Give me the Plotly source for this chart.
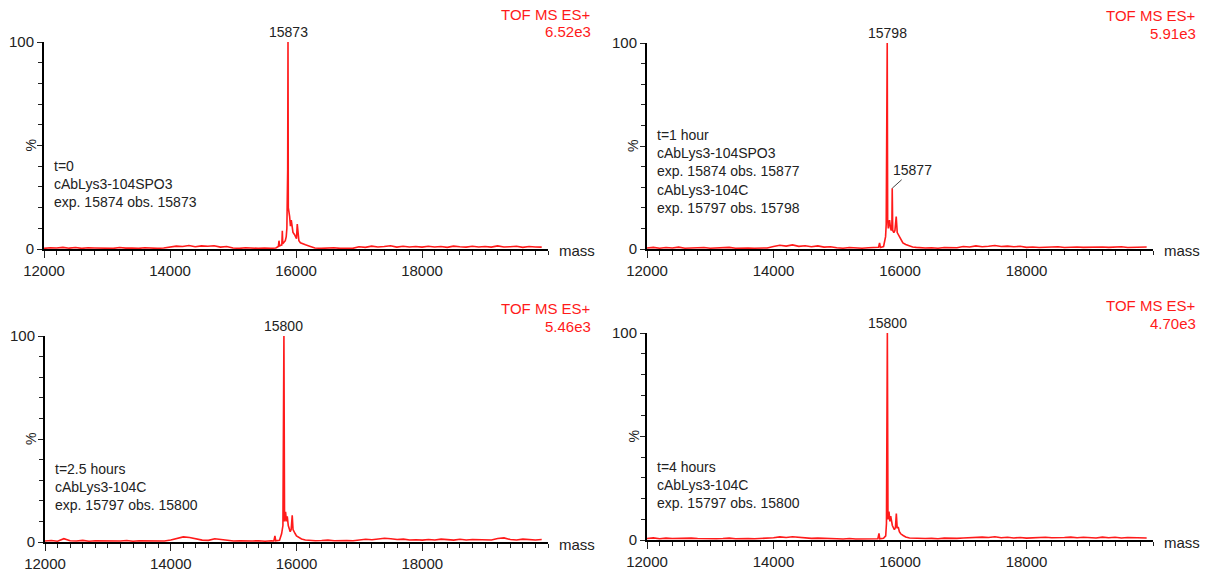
import plotly.graph_objects as go

# Deconvoluted ESI-TOF spectra (mass vs relative intensity, %)
MASS_GRID = list(range(12000, 20000, 100))

# baseline intensity (%) on the 100 Da grid, 12000 .. 19900
base_t0 = [0.3, 0.6, 0.5, 0.8, 0.4, 0.7, 0.3, 0.6, 0.5, 0.4,
           0.6, 0.3, 0.7, 0.4, 0.5, 0.3, 0.6, 0.4, 0.3, 0.5,
           1.0, 1.4, 1.2, 1.7, 1.1, 1.5, 1.3, 1.6, 0.9, 1.2,
           0.5, 0.3, 0.6, 0.4, 0.3, 0.5, 0.4, 0.3, 0.5, 0.4,
           0.3, 0.4, 0.3, 0.5, 0.3, 0.4, 0.6, 0.3, 0.4, 0.3,
           1.1, 0.8, 1.4, 1.0, 1.2, 1.6, 0.9, 1.3, 1.0, 1.2,
           0.9, 1.3, 1.0, 1.2, 0.8, 1.4, 1.1, 0.9, 1.3, 1.0,
           1.2, 0.9, 1.5, 1.0, 1.1, 1.3, 0.8, 1.2, 1.0, 0.9]
base_t1 = [0.5, 0.8, 0.4, 0.7, 0.5, 0.9, 0.4, 0.6, 0.5, 0.7,
           0.4, 0.6, 0.5, 0.8, 0.4, 0.6, 0.5, 0.4, 0.6, 0.5,
           1.2, 1.8, 1.4, 2.0, 1.3, 1.6, 1.1, 1.5, 0.9, 1.1,
           0.6, 0.4, 0.7, 0.5, 0.4, 0.6, 0.5, 0.4, 0.5, 0.4,
           0.5, 0.6, 0.4, 0.7, 0.5, 0.6, 0.4, 0.7, 0.5, 0.6,
           1.2, 1.0, 1.5, 1.1, 1.3, 1.7, 1.2, 1.4, 1.1, 1.3,
           0.8, 1.0, 0.7, 0.9, 0.8, 1.1, 0.7, 0.9, 1.0, 0.8,
           0.9, 0.7, 1.0, 0.8, 0.9, 1.1, 0.7, 0.9, 0.8, 1.0]
base_t25 = [0.5, 0.7, 0.4, 1.6, 0.6, 0.5, 0.8, 0.4, 0.6, 0.5,
            0.4, 0.6, 0.5, 0.7, 0.4, 0.6, 0.5, 0.4, 0.6, 0.5,
            1.0, 1.8, 2.5, 2.2, 1.4, 0.9, 0.8, 1.6, 1.2, 0.7,
            0.5, 0.6, 0.4, 0.5, 0.6, 0.4, 0.5, 0.4, 0.6, 0.5,
            0.7, 0.6, 0.8, 0.6, 0.7, 0.9, 0.6, 0.8, 0.7, 0.6,
            1.0, 1.3, 1.1, 1.5, 1.8, 1.6, 1.2, 1.4, 1.0, 1.1,
            0.9, 1.2, 1.0, 1.4, 1.1, 0.9, 1.3, 1.0, 1.2, 1.1,
            1.3, 1.0, 1.7, 2.0, 1.2, 1.0, 1.4, 1.1, 1.0, 1.2]
base_t4 = [0.7, 1.0, 0.6, 0.9, 0.7, 0.8, 0.6, 0.9, 0.7, 0.6,
           0.8, 0.6, 0.7, 0.9, 0.6, 0.8, 0.7, 0.6, 0.8, 0.7,
           1.1, 1.5, 1.2, 1.6, 1.3, 1.0, 0.8, 0.9, 0.7, 0.8,
           0.6, 0.5, 0.7, 0.5, 0.6, 0.4, 0.5, 0.4, 0.6, 0.5,
           0.7, 0.8, 0.6, 0.9, 0.7, 0.8, 0.6, 0.9, 0.7, 0.8,
           1.0, 1.2, 1.1, 1.4, 1.2, 1.6, 1.1, 1.3, 1.0, 1.2,
           0.9, 1.1, 1.0, 1.3, 1.1, 1.0, 1.2, 1.4, 1.1, 1.3,
           1.2, 1.0, 1.4, 1.1, 1.3, 1.0, 1.2, 1.1, 1.3, 1.0]

# protein envelope region (15600 - 16300 Da)
peak_t0_mass = [15600, 15680, 15720, 15730, 15740, 15775, 15783, 15790, 15830, 15845,
                15855, 15868, 15873, 15878, 15899, 15912, 15925, 15940, 15952, 15975,
                15994, 16008, 16020, 16032, 16046, 16070, 16100, 16150, 16205, 16260]
peak_t0_int = [0.3, 0.5, 1.2, 4.0, 1.5, 2.0, 8.8, 2.5, 4.0, 6.0,
               10.0, 38.5, 100.0, 20.0, 15.6, 11.0, 14.0, 9.0, 8.0, 7.0,
               6.0, 5.0, 12.0, 5.5, 4.0, 3.0, 2.5, 2.0, 1.5, 0.8]

peak_t1_mass = [15600, 15660, 15677, 15690, 15740, 15772, 15782, 15794, 15798, 15805,
                15815, 15824, 15835, 15851, 15862, 15872, 15877, 15885, 15903, 15920,
                15940, 15956, 15975, 15993, 16020, 16046, 16090, 16151, 16200, 16256]
peak_t1_int = [0.5, 0.8, 3.0, 0.7, 1.2, 6.0, 12.0, 97.0, 100.0, 14.0,
               10.0, 12.0, 14.0, 10.0, 9.0, 12.0, 29.5, 9.0, 8.0, 9.0,
               15.7, 8.0, 7.0, 6.0, 4.5, 3.0, 2.2, 1.5, 1.0, 0.8]

peak_t25_mass = [15600, 15640, 15657, 15670, 15730, 15763, 15784, 15796, 15800, 15810,
                 15826, 15840, 15853, 15869, 15885, 15900, 15915, 15932, 15945, 15958,
                 15980, 16000, 16040, 16080, 16140, 16200, 16260]
peak_t25_int = [0.6, 0.5, 3.0, 0.6, 0.8, 4.0, 8.0, 91.6, 100.0, 10.0,
                14.7, 10.0, 12.5, 8.0, 6.0, 5.0, 6.0, 13.0, 6.0, 5.0,
                4.0, 3.0, 2.2, 1.5, 1.0, 0.8, 0.6]

peak_t4_mass = [15600, 15650, 15668, 15680, 15740, 15774, 15786, 15796, 15800, 15810,
                15826, 15840, 15853, 15879, 15895, 15911, 15928, 15942, 15955, 15974,
                15990, 16011, 16050, 16090, 16150, 16200, 16260]
peak_t4_int = [0.5, 0.6, 3.2, 0.6, 0.8, 2.0, 8.0, 91.7, 100.0, 10.0,
               13.7, 9.0, 11.5, 7.0, 6.0, 5.0, 6.0, 12.8, 6.0, 6.0,
               4.0, 3.0, 2.2, 1.5, 1.0, 0.9, 0.8]

scale_labels = ["6.52e3", "5.91e3", "5.46e3", "4.70e3"]
peak_labels = [[(15873, 100.0, "15873")],
               [(15798, 100.0, "15798")],
               [(15800, 100.0, "15800")],
               [(15800, 100.0, "15800")]]
side_label = (15877, 29.5, "15877")
sample_notes = [
    ["t=0", "cAbLys3-104SPO3", "exp. 15874 obs. 15873"],
    ["t=1 hour", "cAbLys3-104SPO3", "exp. 15874 obs. 15877",
     "cAbLys3-104C", "exp. 15797 obs. 15798"],
    ["t=2.5 hours", "cAbLys3-104C", "exp. 15797 obs. 15800"],
    ["t=4 hours", "cAbLys3-104C", "exp. 15797 obs. 15800"],
]

bases = [base_t0, base_t1, base_t25, base_t4]
peaks = [(peak_t0_mass, peak_t0_int), (peak_t1_mass, peak_t1_int),
         (peak_t25_mass, peak_t25_int), (peak_t4_mass, peak_t4_int)]

W, H = 1212, 572
FONT = "Liberation Sans, Arial, sans-serif"
RED = "#ff1a1a"
TXT = "#222222"

# plot-area rectangles in pixels: (left, right, top, bottom)
boxes = [(44, 548, 42, 249), (647, 1153, 43, 249),
         (45, 548, 336, 542), (647, 1153, 333, 540)]
# first line centre of the sample description, in pixels
note_tops = [166, 135, 469, 467]


def merged(base, pm, pi):
    pts = [(m, v) for m, v in zip(MASS_GRID, base) if m < pm[0] or m > pm[-1]]
    pts += list(zip(pm, pi))
    pts.sort()
    return [p[0] for p in pts], [p[1] for p in pts]


fig = go.Figure()
annotations = []

for i in range(4):
    l, r, t, b = boxes[i]
    sfx = "" if i == 0 else str(i + 1)
    xa, ya = "x" + sfx, "y" + sfx
    xs, ys = merged(bases[i], *peaks[i])
    fig.add_trace(go.Scatter(x=xs, y=ys, mode="lines", xaxis=xa, yaxis=ya,
                             line=dict(color=RED, width=1.6), showlegend=False,
                             hoverinfo="skip"))

    fig.layout["xaxis" + sfx] = dict(
        domain=[l / W, r / W], range=[12000, 20000], anchor=ya, automargin=False,
        showline=True, linecolor="black", linewidth=2, showgrid=False, zeroline=False,
        tickmode="array", tickvals=[12000, 14000, 16000, 18000],
        ticks="outside", ticklen=7, tickwidth=1, tickcolor="#222",
        minor=dict(dtick=200, tick0=12000, ticks="outside", ticklen=4, tickwidth=1,
                   tickcolor="#222", showgrid=False),
        tickfont=dict(family=FONT, size=15, color=TXT), tickformat="d",
    )
    fig.layout["yaxis" + sfx] = dict(
        domain=[1 - b / H, 1 - t / H], range=[0, 100], anchor=xa, automargin=False,
        showline=True, linecolor="black", linewidth=2, showgrid=False, zeroline=False,
        tickmode="array", tickvals=[0, 50, 100], ticktext=["0", "", "100"],
        ticks="outside", ticklen=5, tickwidth=1, tickcolor="#222",
        minor=dict(dtick=10, tick0=0, ticks="outside", ticklen=4, tickwidth=1,
                   tickcolor="#222", showgrid=False),
        tickfont=dict(family=FONT, size=15, color=TXT),
    )

    # instrument header and base-peak intensity
    annotations.append(dict(xref="paper", yref="paper", x=(r + 45) / W, y=1 - (t - 28) / H,
                            xanchor="right", yanchor="middle", showarrow=False,
                            text="TOF MS ES+", font=dict(family=FONT, size=15, color=RED)))
    annotations.append(dict(xref="paper", yref="paper", x=(r + 45) / W, y=1 - (t - 10) / H,
                            xanchor="right", yanchor="middle", showarrow=False,
                            text=scale_labels[i], font=dict(family=FONT, size=15, color=RED)))
    # axis names
    annotations.append(dict(xref="paper", yref="paper", x=(r + 9) / W, y=1 - (b + 2) / H,
                            xanchor="left", yanchor="middle", showarrow=False,
                            text="mass", font=dict(family=FONT, size=15, color=TXT)))
    annotations.append(dict(xref="paper", yref="paper", x=(l - 14) / W, y=1 - ((t + b) / 2) / H,
                            xanchor="center", yanchor="middle", showarrow=False, textangle=-90,
                            text="%", font=dict(family=FONT, size=14, color=TXT)))
    # peak labels
    for (m, v, s) in peak_labels[i]:
        annotations.append(dict(xref=xa, yref=ya, x=m, y=v, xanchor="center", yanchor="bottom",
                                yshift=0, showarrow=False, text=s,
                                font=dict(family=FONT, size=14, color=TXT)))
    if i == 1:
        m, v, s = side_label
        annotations.append(dict(xref=xa, yref=ya, x=m, y=v, showarrow=True, arrowhead=0,
                                arrowwidth=1, arrowcolor="#444", ax=20, ay=-18, text=s,
                                font=dict(family=FONT, size=14, color=TXT)))
    # sample description
    annotations.append(dict(xref="paper", yref="paper", x=(l + 8) / W,
                            y=1 - (note_tops[i] - 10) / H, xanchor="left", yanchor="top",
                            align="left", showarrow=False, text="<br>".join(sample_notes[i]),
                            font=dict(family=FONT, size=14, color=TXT)))

fig.update_layout(width=W, height=H, margin=dict(l=0, r=0, t=0, b=0),
                  paper_bgcolor="white", plot_bgcolor="white",
                  annotations=annotations)

fig.write_html("out.html")
